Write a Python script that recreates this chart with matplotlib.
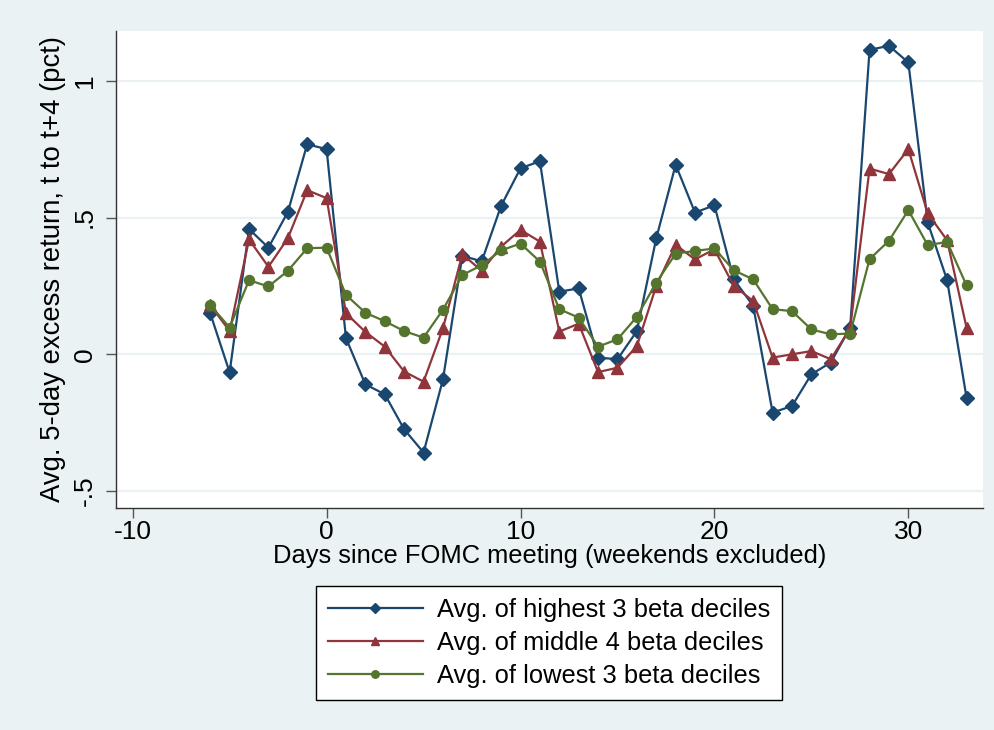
import numpy as np
import matplotlib.pyplot as plt

# days since FOMC meeting
days = list(range(-6, 34))

# avg 5-day excess return, t to t+4 (pct)
high_beta = [0.15, -0.066, 0.458, 0.39, 0.52, 0.768, 0.75, 0.059, -0.11, -0.146,
             -0.274, -0.359, -0.092, 0.36, 0.34, 0.543, 0.68, 0.706, 0.229, 0.241,
             -0.012, -0.018, 0.085, 0.424, 0.693, 0.518, 0.545, 0.274, 0.177, -0.213,
             -0.189, -0.073, -0.030, 0.098, 1.113, 1.128, 1.067, 0.482, 0.271, -0.158]
mid_beta = [0.18, 0.085, 0.42, 0.32, 0.424, 0.60, 0.571, 0.15, 0.082, 0.028,
            -0.063, -0.10, 0.095, 0.366, 0.305, 0.394, 0.455, 0.412, 0.083, 0.112,
            -0.065, -0.049, 0.03, 0.25, 0.40, 0.347, 0.384, 0.25, 0.195, -0.012,
            0.0, 0.012, -0.018, 0.095, 0.679, 0.659, 0.75, 0.515, 0.417, 0.098]
low_beta = [0.18, 0.098, 0.271, 0.248, 0.305, 0.388, 0.39, 0.217, 0.152, 0.121,
            0.085, 0.061, 0.163, 0.29, 0.326, 0.38, 0.405, 0.339, 0.165, 0.134,
            0.028, 0.055, 0.137, 0.262, 0.368, 0.378, 0.387, 0.307, 0.274, 0.165,
            0.158, 0.091, 0.073, 0.076, 0.348, 0.415, 0.527, 0.399, 0.411, 0.252]

labels = ["Avg. of highest 3 beta deciles",
          "Avg. of middle 4 beta deciles",
          "Avg. of lowest 3 beta deciles"]

x_ticks = [-10, 0, 10, 20, 30]
y_ticks = [-0.5, 0, 0.5, 1]
y_ticklabels = ["-.5", "0", ".5", "1"]

plt.rcParams['font.family'] = ['Liberation Sans', 'DejaVu Sans']
plt.rcParams['axes.unicode_minus'] = False

bg = '#EAF2F3'
fig = plt.figure(figsize=(9.95, 7.3), dpi=100, facecolor=bg)
ax = fig.add_axes([116/995, 1 - 507.5/730, (983 - 116)/995, (507.5 - 31)/730])
ax.set_facecolor('white')

for y in y_ticks:
    ax.axhline(y, color=bg, lw=1.6, zorder=0)

ax.plot(days, high_beta, color='#1a476f', lw=1.6, marker='D', ms=6.8, label=labels[0])
ax.plot(days, mid_beta, color='#90353b', lw=1.6, marker='^', ms=8.5, label=labels[1])
ax.plot(days, low_beta, color='#55752f', lw=1.6, marker='o', ms=7.2, label=labels[2])

ax.set_xlim(-10.86, 33.85)
ax.set_ylim(-0.56, 1.182)
ax.set_xticks(x_ticks)
ax.set_yticks(y_ticks)
ax.set_yticklabels(y_ticklabels, rotation=90, va='center')

for s in ['top', 'right']:
    ax.spines[s].set_visible(False)
for s in ['left', 'bottom']:
    ax.spines[s].set_color('#333333')
    ax.spines[s].set_linewidth(1.0)
ax.tick_params(length=7, width=1, color='#555555', labelsize=19, pad=2)
ax.tick_params(axis='y', pad=7)

ax.set_xlabel("Days since FOMC meeting (weekends excluded)", fontsize=18.4, labelpad=0)
ax.set_ylabel("Avg. 5-day excess return, t to t+4 (pct)", fontsize=19.8, labelpad=5)

leg = fig.legend(loc='center', bbox_to_anchor=(0.5519, 0.1194), fontsize=18.4,
                 frameon=True, fancybox=False, edgecolor='black', framealpha=1,
                 handlelength=3.75, borderpad=0.45, labelspacing=0.36, handletextpad=0.55,
                 markerscale=0.75, borderaxespad=0)
leg.get_frame().set_linewidth(1.0)

fig.savefig('out.png', dpi=100, facecolor=bg)
